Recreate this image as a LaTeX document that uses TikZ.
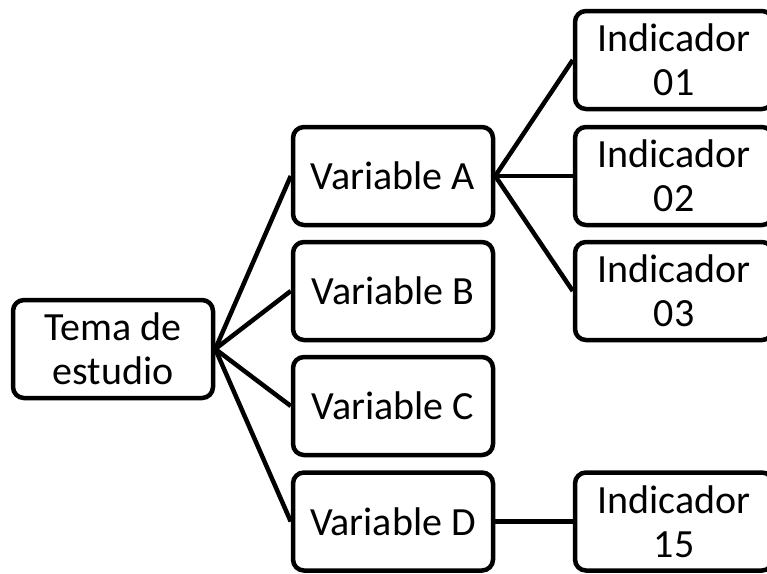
\documentclass[tikz,border=0pt]{standalone}
\usepackage{fontspec}
\setmainfont{Carlito}
\begin{document}
\begin{tikzpicture}[x=1pt,y=-1pt,
  box/.style={draw=black, line width=4.5pt, rounded corners=11pt, fill=white,
    minimum width=200pt, minimum height=98pt, inner sep=0pt, align=center,
    font=\fontsize{40}{44}\selectfont},
  link/.style={line width=4.5pt}]
\useasboundingbox (0,0) rectangle (767,573);
\clip (0,0) rectangle (767,573);
\node[box] (T) at (113,349) {Tema de\\estudio};
\node[box] (A) at (393,176) {Variable A};
\node[box] (B) at (393,291) {Variable B};
\node[box] (C) at (393,406) {Variable C};
\node[box] (D) at (393,521.5) {Variable D};
\node[box, minimum width=198pt] (I1) at (674,60) {Indicador\\01};
\node[box, minimum width=198pt] (I2) at (674,176) {Indicador\\02};
\node[box, minimum width=198pt] (I3) at (674,291) {Indicador\\03};
\node[box, minimum width=198pt] (I15) at (674,521.5) {Indicador\\15};
\foreach \v in {A,B,C,D} \draw[link] (T.east) -- (\v.west);
\foreach \i in {I1,I2,I3} \draw[link] (A.east) -- (\i.west);
\draw[link] (D.east) -- (I15.west);
\end{tikzpicture}
\end{document}
